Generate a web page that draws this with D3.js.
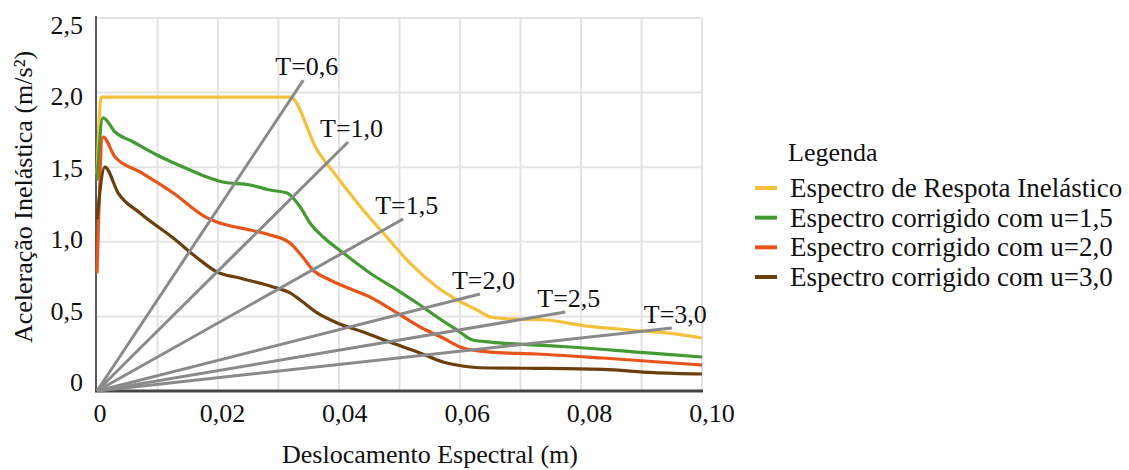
<!DOCTYPE html>
<html><head><meta charset="utf-8">
<script src="https://cdn.jsdelivr.net/npm/d3@7"></script>
<style>
body{margin:0;background:#fff}
svg{display:block}
svg text{font-family:'Liberation Serif','DejaVu Serif','Times New Roman',serif;fill:#111}
</style>
</head><body>
<svg id="chart" width="1129" height="470"></svg>
<script>
// ---- data ----
const xTickValues = [0, 0.02, 0.04, 0.06, 0.08, 0.10];
const xTickLabels = ["0", "0,02", "0,04", "0,06", "0,08", "0,10"];
const yTickValues = [0, 0.5, 1.0, 1.5, 2.0, 2.5];
const yTickLabels = ["0", "0,5", "1,0", "1,5", "2,0", "2,5"];
const xGridValues = [0.01,0.02,0.03,0.04,0.05,0.06,0.07,0.08,0.09,0.10];
const yGridValues = [0.5,1.0,1.5,2.0,2.5];

const seriesNames = ["Espectro de Respota Inelástico","Espectro corrigido com u=1,5","Espectro corrigido com u=2,0","Espectro corrigido com u=3,0"];
const seriesColors = ["#F4C13D","#449A32","#E8541A","#6A3F0C"];

const inelasticX = [0,0.0007,0.0319,0.0364,0.0397,0.0440,0.0479,0.0517,0.0562,0.0595,0.0628,0.0650,0.0683,0.0744,0.0798,0.0881,0.0942,0.1];
const inelasticY = [1.45,1.97,1.97,1.615,1.434,1.213,1.032,0.858,0.697,0.610,0.543,0.496,0.483,0.476,0.442,0.409,0.389,0.355];

const mu15X = [0,0.0010,0.0030,0.0060,0.0099,0.0154,0.0182,0.0208,0.0253,0.0286,0.0314,0.0336,0.0352,0.0374,0.0407,0.0451,0.0496,0.0529,0.0562,0.0595,0.0621,0.0650,0.0727,0.0782,0.0893,0.1];
const mu15Y = [1.41,1.830,1.736,1.669,1.582,1.481,1.434,1.401,1.381,1.347,1.327,1.233,1.126,1.032,0.925,0.791,0.677,0.590,0.496,0.409,0.342,0.328,0.308,0.295,0.261,0.228];

const mu20X = [0,0.0010,0.0030,0.0071,0.0126,0.0182,0.0198,0.0253,0.0286,0.0319,0.0340,0.0357,0.0385,0.0423,0.0451,0.0496,0.0534,0.0572,0.0605,0.0650,0.0727,0.0836,0.1];
const mu20Y = [0.79,1.702,1.568,1.468,1.327,1.160,1.133,1.079,1.046,0.992,0.898,0.811,0.744,0.677,0.630,0.523,0.429,0.355,0.288,0.261,0.248,0.221,0.174];

const mu30X = [0,0.0013,0.0035,0.0071,0.0126,0.0170,0.0198,0.0236,0.0291,0.0319,0.0336,0.0364,0.0397,0.0440,0.0484,0.0534,0.0572,0.0617,0.0650,0.0727,0.0836,0.0919,0.1];
const mu30Y = [1.15,1.501,1.327,1.193,1.025,0.878,0.798,0.757,0.697,0.657,0.610,0.523,0.456,0.395,0.328,0.255,0.194,0.161,0.154,0.152,0.145,0.123,0.114];

const periodLabels = ["T=0,6","T=1,0","T=1,5","T=2,0","T=2,5","T=3,0"];
const periodEndX = [0.0341,0.0415,0.0506,0.0633,0.0774,0.0950];
const periodEndY = [2.084,1.669,1.153,0.650,0.529,0.422];

// ---- drawing ----
const svg = d3.select("#chart");
const x = d3.scaleLinear().domain([0, 0.1]).range([97, 702]);
const y = d3.scaleLinear().domain([0, 2.5]).range([391, 18]);
// label placement scales (tick labels are slightly offset from grid in the original)
const xLab = d3.scaleLinear().domain([0, 0.1]).range([100, 712]);
const yLab = d3.scaleLinear().domain([0, 2.5]).range([382, 25]);

// gridlines
svg.append("g").selectAll("line").data(xGridValues).join("line")
  .attr("x1", d => x(d)).attr("x2", d => x(d))
  .attr("y1", y(2.5)).attr("y2", y(0))
  .attr("stroke", "#e4e4e4").attr("stroke-width", 2);
svg.append("g").selectAll("line").data(yGridValues).join("line")
  .attr("x1", x(0)).attr("x2", x(0.1))
  .attr("y1", d => y(d)).attr("y2", d => y(d))
  .attr("stroke", "#e4e4e4").attr("stroke-width", 2);

// axes lines
svg.append("line").attr("x1", x(0)-1).attr("x2", x(0)-1).attr("y1", y(2.5)-2).attr("y2", y(0)+1)
  .attr("stroke", "#5a5a5a").attr("stroke-width", 2);
svg.append("line").attr("x1", x(0)-2).attr("x2", x(0.1)+1).attr("y1", y(0)).attr("y2", y(0))
  .attr("stroke", "#444").attr("stroke-width", 3);

// tick labels
svg.append("g").selectAll("text").data(xTickValues).join("text")
  .attr("x", d => xLab(d)).attr("y", 422)
  .attr("text-anchor", "middle").attr("font-size", 26)
  .text((d, i) => xTickLabels[i]);
svg.append("g").selectAll("text").data(yTickValues).join("text")
  .attr("x", 83).attr("y", d => yLab(d) + 9)
  .attr("text-anchor", "end").attr("font-size", 26)
  .text((d, i) => yTickLabels[i]);

// axis titles
svg.append("text").attr("x", 430).attr("y", 463).attr("text-anchor", "middle")
  .attr("font-size", 26).text("Deslocamento Espectral (m)");
svg.append("text").attr("transform", "translate(32,197) rotate(-90)")
  .attr("text-anchor", "middle").attr("font-size", 26).text("Aceleração Inelástica (m/s²)");

// curves
const seriesX = [inelasticX, mu15X, mu20X, mu30X];
const seriesY = [inelasticY, mu15Y, mu20Y, mu30Y];
const line = d3.line().x(d => x(d[0])).y(d => y(d[1])).curve(d3.curveMonotoneX);
seriesX.forEach((xs, k) => {
  const pts = xs.map((v, i) => [v, seriesY[k][i]]);
  svg.append("path").datum(pts).attr("d", line)
    .attr("fill", "none").attr("stroke", seriesColors[k])
    .attr("stroke-width", 3.2).attr("stroke-linejoin", "round");
});

// period lines
svg.append("g").selectAll("line").data(periodEndX).join("line")
  .attr("x1", x(0)).attr("y1", y(0))
  .attr("x2", d => x(d)).attr("y2", (d, i) => y(periodEndY[i]))
  .attr("stroke", "#8a8a8a").attr("stroke-width", 3);
svg.append("g").selectAll("text").data(periodEndX).join("text")
  .attr("x", d => x(d) - 28).attr("y", (d, i) => y(periodEndY[i]) - 5)
  .attr("font-size", 26)
  .text((d, i) => periodLabels[i]);

// legend
const lg = svg.append("g");
lg.append("text").attr("x", 788).attr("y", 161).attr("font-size", 26).text("Legenda");
const rowY = d3.scaleLinear().domain([0, 3]).range([188, 277]);
seriesNames.forEach((name, i) => {
  lg.append("line").attr("x1", 755).attr("x2", 777).attr("y1", rowY(i)).attr("y2", rowY(i))
    .attr("stroke", seriesColors[i]).attr("stroke-width", 4);
  lg.append("text").attr("x", 790).attr("y", rowY(i) + 9).attr("font-size", 27).text(name);
});
</script>
</body></html>
